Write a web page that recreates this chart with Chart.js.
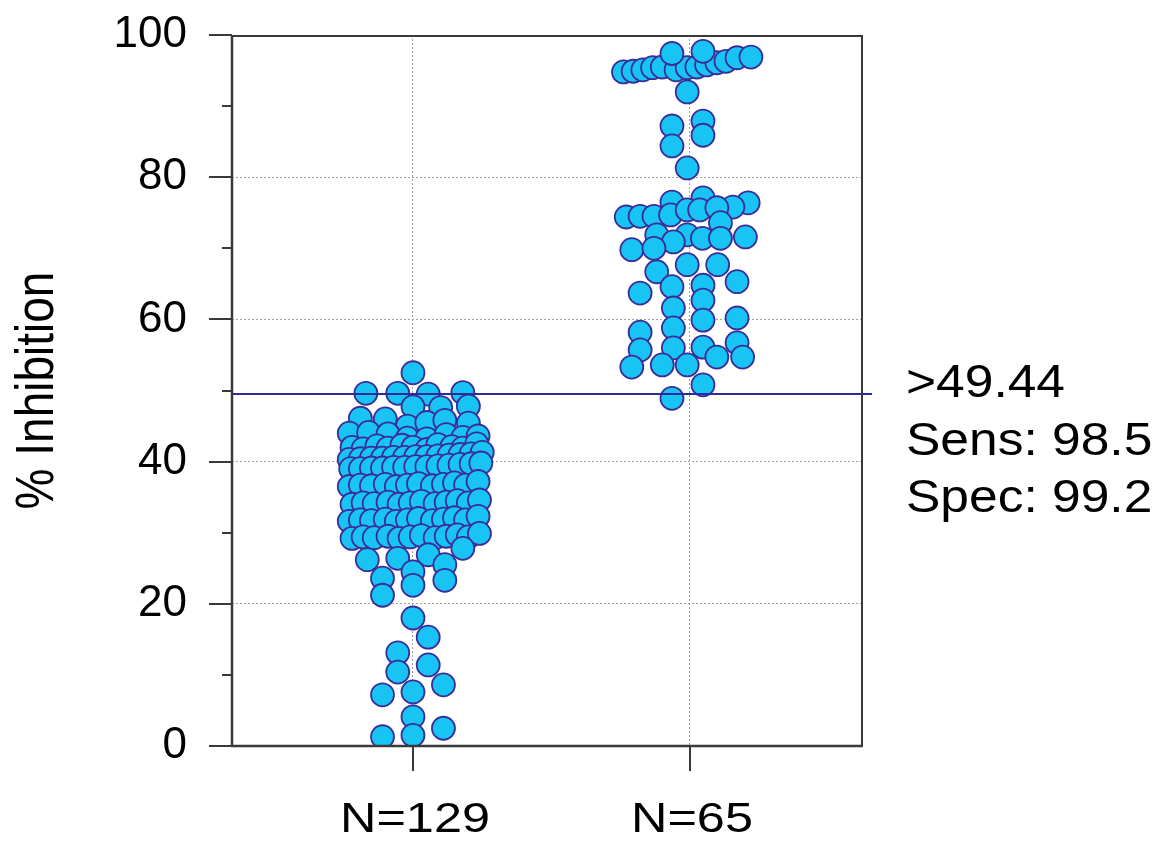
<!DOCTYPE html>
<html>
<head>
<meta charset="utf-8">
<script src="https://cdn.jsdelivr.net/npm/chart.js@4.4.1/dist/chart.umd.min.js"></script>
<style>
html,body{margin:0;padding:0;background:#ffffff;}
#wrap{width:1171px;height:845px;position:relative;}
</style>
</head>
<body>
<div id="wrap"><canvas id="c" width="1171" height="845"></canvas></div>
<script>
// ---------- data ----------
const categories = ['N=129', 'N=65'];
const categoryPositions = [1, 2];

// group 1 (N=129): % inhibition values and horizontal swarm offsets (category units)
const g1Values = [
  52.5,
  49.6, 49.6, 49.5, 49.7,
  47.7, 47.6, 47.8,
  46.1, 46.0, 45.0, 45.5, 45.8, 45.4,
  44.0, 44.1, 43.9, 43.3, 43.2, 43.8, 43.4, 43.6,
  42.0, 41.8, 42.2, 41.9, 42.3, 42.0, 41.7, 42.4, 42.1, 41.9, 42.5,
  40.3, 40.4, 40.5, 40.5, 40.6, 40.6, 40.7, 40.7, 40.8, 40.9, 41.0, 41.1, 41.3,
  39.0, 39.0, 39.1, 39.1, 39.2, 39.2, 39.3, 39.3, 39.4, 39.5, 39.6, 39.7, 39.8,
  36.5, 36.7, 36.6, 36.8, 36.5, 36.7, 36.9, 36.6, 36.8, 37.0, 36.7, 37.2,
  34.0, 34.2, 34.1, 34.3, 34.0, 34.2, 34.4, 34.1, 34.3, 34.5, 34.2, 34.6,
  31.6, 31.8, 31.7, 31.9, 31.6, 31.8, 32.0, 31.7, 31.9, 32.1, 31.8, 32.3,
  29.2, 29.4, 29.3, 29.5, 29.2, 29.4, 29.6, 29.3, 29.5, 29.7, 29.4, 29.9,
  27.8, 26.9, 26.4, 26.2, 25.5, 24.5, 23.6, 23.3, 22.6, 21.2,
  18.0, 15.3, 13.1, 11.4, 10.4, 8.6, 7.6, 7.2, 4.1, 2.5, 1.5, 1.3
];
const g1Offsets = [
  0.00,
  -0.17, -0.055, 0.055, 0.18,
  0.00, 0.10, 0.20,
  -0.19, -0.10, -0.02, 0.05, 0.115, 0.20,
  -0.23, -0.16, -0.09, -0.02, 0.05, 0.12, 0.18, 0.235,
  -0.22, -0.18, -0.13, -0.09, -0.04, 0.00, 0.05, 0.09, 0.14, 0.18, 0.23,
  -0.23, -0.19, -0.15, -0.11, -0.07, -0.03, 0.01, 0.05, 0.09, 0.13, 0.17, 0.21, 0.25,
  -0.225, -0.19, -0.15, -0.11, -0.07, -0.03, 0.01, 0.05, 0.09, 0.13, 0.17, 0.21, 0.245,
  -0.23, -0.19, -0.15, -0.10, -0.06, -0.02, 0.02, 0.07, 0.11, 0.15, 0.19, 0.235,
  -0.22, -0.18, -0.14, -0.09, -0.05, -0.01, 0.03, 0.08, 0.12, 0.16, 0.20, 0.24,
  -0.23, -0.19, -0.15, -0.10, -0.06, -0.02, 0.02, 0.07, 0.11, 0.15, 0.19, 0.235,
  -0.22, -0.18, -0.14, -0.09, -0.05, -0.01, 0.03, 0.08, 0.12, 0.16, 0.20, 0.24,
  0.18, 0.055, -0.055, -0.165, 0.115, 0.00, -0.11, 0.115, 0.00, -0.11,
  0.00, 0.055, -0.055, 0.055, -0.055, 0.11, 0.00, -0.11, 0.00, 0.11, 0.00, -0.11
];

// group 2 (N=65)
const g2Values = [
  94.8, 94.9, 95.1, 95.4, 95.5, 95.1, 95.4, 95.5, 95.8, 96.1, 96.3, 96.8, 96.9, 97.4, 97.7,
  92.0, 87.2, 84.4, 87.9, 85.9, 81.3,
  76.5, 77.1, 76.4, 75.8,
  74.4, 74.5, 74.5, 74.7, 75.4, 75.4, 75.7,
  71.9, 71.9, 71.4, 73.6, 71.4, 71.6, 70.9,
  69.8, 70.0,
  66.7, 67.7, 67.7,
  65.3, 64.6, 64.8, 63.7,
  61.6, 62.7,
  59.9, 60.2,
  58.2, 58.8,
  55.7, 56.0, 56.1, 56.7,
  53.3, 53.6, 53.6, 54.7, 54.7,
  50.8, 48.9
];
const g2Offsets = [
  -0.24, -0.205, -0.17, -0.135, -0.10, -0.05, -0.01, 0.025, 0.06, 0.097, 0.13, 0.17, 0.22, -0.065, 0.047,
  -0.01, -0.065, -0.065, 0.047, 0.047, -0.01,
  -0.065, 0.047, 0.21, 0.155,
  -0.23, -0.18, -0.13, -0.07, -0.01, 0.035, 0.097,
  -0.12, -0.01, 0.045, 0.11, 0.11, 0.20, -0.06,
  -0.21, -0.13,
  -0.12, -0.01, 0.10,
  0.17, -0.065, 0.047, -0.18,
  -0.06, 0.047,
  0.047, 0.17,
  -0.18, -0.06,
  -0.18, -0.06, 0.047, 0.17,
  -0.21, -0.10, -0.01, 0.097, 0.19,
  0.047, -0.065
];

const yTicks = [0, 20, 40, 60, 80, 100];
const yMinorTicks = [10, 30, 50, 70, 90];
const cutoff = 49.44;
const annotationLines = ['>49.44', 'Sens: 98.5', 'Spec: 99.2'];
const yTitle = '% Inhibition';

// ---------- chart ----------
const FONT = '"Liberation Sans", Arial, sans-serif';
const GRID = '#a0a0a0';

function toPoints(values, offsets, center) {
  return values.map((v, i) => ({ x: center + offsets[i], y: v }));
}

const extras = {
  id: 'extras',
  afterDatasetsDraw(chart) {
    const { ctx, chartArea: a, scales: { x, y } } = chart;
    ctx.save();
    // cutoff line
    const yc = Math.round(y.getPixelForValue(cutoff));
    ctx.strokeStyle = '#2b2b9c';
    ctx.lineWidth = 2;
    ctx.beginPath(); ctx.moveTo(a.left, yc); ctx.lineTo(a.right + 10, yc); ctx.stroke();

    // frame
    ctx.strokeStyle = '#3a3a3a';
    ctx.lineWidth = 2;
    ctx.beginPath();
    ctx.moveTo(a.left, a.top + 1); ctx.lineTo(a.right, a.top + 1);
    ctx.moveTo(a.right, a.top); ctx.lineTo(a.right, a.bottom);
    ctx.stroke();
    ctx.lineWidth = 2.5;
    ctx.beginPath();
    ctx.moveTo(a.left, a.top); ctx.lineTo(a.left, a.bottom);
    ctx.moveTo(a.left - 1, a.bottom); ctx.lineTo(a.right + 1, a.bottom);
    ctx.stroke();

    // ticks
    ctx.lineWidth = 2;
    ctx.beginPath();
    yTicks.forEach(v => { const p = Math.round(y.getPixelForValue(v)); ctx.moveTo(a.left - 23, p); ctx.lineTo(a.left, p); });
    yMinorTicks.forEach(v => { const p = Math.round(y.getPixelForValue(v)); ctx.moveTo(a.left - 10, p); ctx.lineTo(a.left, p); });
    categoryPositions.forEach(c => { const p = Math.round(x.getPixelForValue(c)); ctx.moveTo(p, a.bottom); ctx.lineTo(p, a.bottom + 25); });
    ctx.stroke();

    ctx.fillStyle = '#000';
    // x category labels
    ctx.font = '42px ' + FONT;
    ctx.textAlign = 'center';
    ctx.textBaseline = 'alphabetic';
    categories.forEach((c, i) => {
      const p = x.getPixelForValue(categoryPositions[i]);
      ctx.save(); ctx.translate(p + 2, 832); ctx.scale(1.2, 1); ctx.fillText(c, 0, 0); ctx.restore();
    });

    // y title
    ctx.save();
    ctx.font = '46px ' + FONT;
    ctx.translate(53, (a.top + a.bottom) / 2);
    ctx.rotate(-Math.PI / 2);
    ctx.scale(1, 1.15);
    ctx.textAlign = 'center';
    ctx.fillText(yTitle, 0, 0);
    ctx.restore();

    // annotation
    ctx.font = '46px ' + FONT;
    ctx.textAlign = 'left';
    const baselines = [397, 455, 512];
    annotationLines.forEach((t, i) => {
      ctx.save(); ctx.translate(906, baselines[i]); ctx.scale(1.12, 1); ctx.fillText(t, 0, 0); ctx.restore();
    });
    ctx.restore();
  }
};

const pointStyle = {
  pointRadius: 11.5,
  pointBorderWidth: 1.8,
  backgroundColor: '#17c4f4',
  borderColor: '#3b2d98',
  showLine: false
};

new Chart(document.getElementById('c'), {
  type: 'scatter',
  data: {
    datasets: [
      Object.assign({ label: categories[0], data: toPoints(g1Values, g1Offsets, categoryPositions[0]) }, pointStyle),
      Object.assign({ label: categories[1], data: toPoints(g2Values, g2Offsets, categoryPositions[1]) }, pointStyle)
    ]
  },
  options: {
    responsive: false,
    animation: false,
    events: [],
    layout: { padding: { top: 35, right: 309, bottom: 0, left: 0 } },
    plugins: { legend: { display: false }, tooltip: { enabled: false } },
    scales: {
      x: {
        type: 'linear',
        min: 0.3466,
        max: 2.621,
        afterBuildTicks: s => { s.ticks = categoryPositions.map(v => ({ value: v })); },
        afterFit: s => { s.height = 99; s.paddingLeft = 0; s.paddingRight = 0; },
        ticks: { display: false },
        grid: { color: GRID, lineWidth: 1, drawTicks: false },
        border: { display: false, dash: [2, 2] }
      },
      y: {
        min: 0,
        max: 100,
        afterBuildTicks: s => { s.ticks = yTicks.map(v => ({ value: v })); },
        afterFit: s => { s.width = 232; s.paddingTop = 0; s.paddingBottom = 0; },
        ticks: { font: { family: FONT, size: 44 }, color: '#000', padding: 45 },
        grid: {
          color: c => (c.tick && (c.tick.value === 0 || c.tick.value === 100)) ? 'rgba(0,0,0,0)' : GRID,
          lineWidth: 1,
          drawTicks: false
        },
        border: { display: false, dash: [2, 2] }
      }
    }
  },
  plugins: [extras]
});
</script>
</body>
</html>
